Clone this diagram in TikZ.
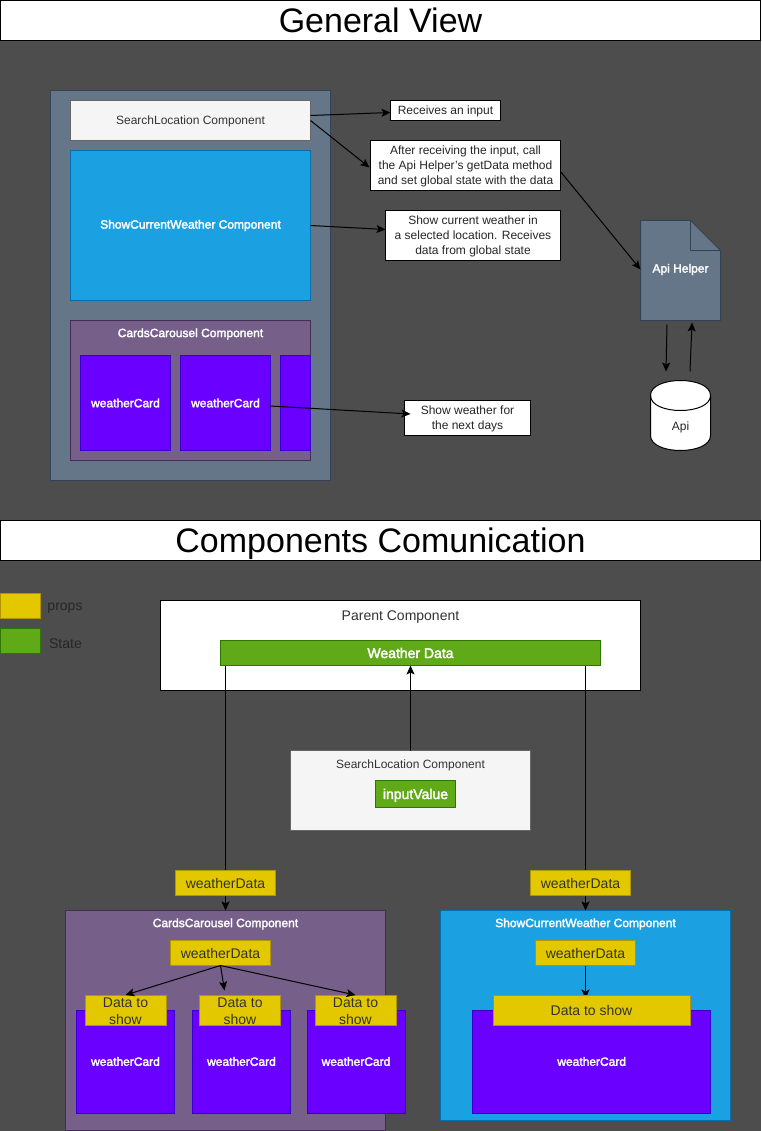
\documentclass[tikz,border=0pt]{standalone}
\usepackage{fontspec}
\setmainfont{Liberation Sans}
\newfontfamily\heavyfont[FakeBold=2.4]{Liberation Sans}
\usepackage{xcolor}
\usetikzlibrary{calc,arrows.meta,positioning}
\definecolor{bgdark}{HTML}{4D4D4D}
\definecolor{panelfill}{HTML}{647687}
\definecolor{panelline}{HTML}{314354}
\definecolor{lightfill}{HTML}{F5F5F5}
\definecolor{lightline}{HTML}{666666}
\definecolor{bluefill}{HTML}{1BA1E2}
\definecolor{blueline}{HTML}{006EAF}
\definecolor{mauvefill}{HTML}{76608A}
\definecolor{mauveline}{HTML}{432D57}
\definecolor{cardfill}{HTML}{6A00FF}
\definecolor{cardline}{HTML}{3700CC}
\definecolor{propfill}{HTML}{E3C800}
\definecolor{propline}{HTML}{B09500}
\definecolor{statefill}{HTML}{60A917}
\definecolor{stateline}{HTML}{2D7600}
\newcommand{\lowsmall}{\rule{0pt}{11pt}}
\newcommand{\lowlarge}{\rule{0pt}{12.5pt}}
\tikzset{
  every node/.style={font=\fontsize{12}{15}\selectfont,inner sep=0pt,outer sep=0pt,align=center},
  sized/.style 2 args={minimum width=#1,minimum height=#2},
  flat/.style={text height=#1,text depth=0pt},
  flat/.default=9pt,
  title/.style={draw=black,fill=white,font=\fontsize{34}{38}\selectfont,flat=24pt},
  note/.style={draw=black,fill=white,text=black!85},
  lightbox/.style={draw=lightline,fill=lightfill,text=black!80},
  bluebox/.style={draw=blueline,fill=bluefill,text=white},
  mauvebox/.style={draw=mauveline,fill=mauvefill,text=white},
  cardbox/.style={draw=cardline,fill=cardfill,text=white,font=\heavyfont\fontsize{12}{15}\selectfont},
  propbox/.style={draw=propline,fill=propfill,text=black!80,font=\fontsize{14}{16.5}\selectfont},
  statebox/.style={draw=stateline,fill=statefill,text=white,font=\heavyfont\fontsize{14}{16.5}\selectfont},
  caption/.style={font=\heavyfont\fontsize{12}{15}\selectfont,text=white},
  keytext/.style={text=black!85,font=\fontsize{14}{16}\selectfont,flat=10pt}
}
\tikzstyle{arrow} = [line width=1pt,-{Stealth[length=9pt,width=8pt,inset=2pt]},black]
\begin{document}
\begin{tikzpicture}[x=1pt,y=-1pt,line width=1pt]
  \useasboundingbox (0,0) rectangle (761,1131);
  \fill[bgdark] (0,0) rectangle (761,1131);

  % general view
  \node[title,sized={760}{40}] (viewtitle) at (380.5,20.5) {General View};
  \node[draw=panelline,fill=panelfill,sized={280}{390}] (panel) at (190.5,285.5) {};
  \node[lightbox,flat,sized={240}{40}] (search) at (190.5,120.5) {SearchLocation Component};
  \node[bluebox,sized={240}{150},font=\heavyfont\fontsize{12}{15}\selectfont] (current) at (190.5,225.5) {ShowCurrentWeather Component};
  \node[mauvebox,sized={240}{140}] (carousel) at (190.5,390.5) {};
  \node[caption] (carouselname) at (190.5,334) {CardsCarousel Component};
  \node[cardbox,sized={90}{95}] (cardone) at (125.5,403) {weatherCard};
  \node[cardbox,sized={90}{95}] (cardtwo) at (225.5,403) {weatherCard};
  \node[cardbox,sized={30}{95}] (cardthree) at (295.5,403) {};

  \node[note,flat,sized={110}{20}] (inputnote) at (445.5,110.5) {Receives an input};
  \node[note,sized={190}{50}] (callnote) at (465.5,165.5) {\lowsmall After receiving the input, call\\the Api Helper's getData method\\and set global state with the data};
  \node[note,sized={175}{50}] (currentnote) at (473,235.5) {\lowsmall Show current weather in\\a selected location. Receives\\data from global state};
  \node[note,sized={126}{35}] (daysnote) at (467.5,418) {\lowsmall Show weather for\\the next days};

  \draw[draw=panelline,fill=panelfill] (640.5,220.5) -- (690.5,220.5) -- (720.5,250.5) -- (720.5,320.5) -- (640.5,320.5) -- cycle;
  \draw[draw=panelline] (690.5,220.5) -- (690.5,250.5) -- (720.5,250.5);
  \node[caption,sized={80}{100}] (helper) at (680.5,269.5) {Api Helper};
  \draw[draw=black,fill=white] (650.5,395.5) .. controls (650.5,375.5) and (710.5,375.5) .. (710.5,395.5) -- (710.5,435.5) .. controls (710.5,455.5) and (650.5,455.5) .. (650.5,435.5) -- cycle;
  \draw[draw=black] (650.5,395.5) .. controls (650.5,415.5) and (710.5,415.5) .. (710.5,395.5);
  \node[sized={60}{70}] (api) at (680.5,415.5) {};
  \node[text=black!85] (apiname) at (680.5,427) {Api};

  \draw[arrow] ([yshift=5pt]search.east) -- ([yshift=-2pt]inputnote.west);
  \draw[arrow] (search.east) -- ([xshift=-1pt,yshift=-2pt]callnote.west);
  \draw[arrow] (current.east) -- ([yshift=6pt]currentnote.west);
  \draw[arrow] ([yshift=-6pt]callnote.east) -- (helper.west);
  \draw[arrow] ([xshift=44.5pt,yshift=-3pt]cardtwo.center) -- ([xshift=6pt,yshift=4pt]daysnote.west);
  \draw[arrow] ([xshift=-13.5pt,yshift=-5pt]helper.south) -- ([xshift=-14.5pt,yshift=9pt]api.north);
  \draw[arrow] ([xshift=9.5pt,yshift=9pt]api.north) -- ([xshift=11.5pt,yshift=-3pt]helper.south);

  % components comunication
  \node[title,sized={760}{40}] (commtitle) at (380.5,540.5) {Components Comunication};
  \node[draw=propline,fill=propfill,sized={40}{25}] (propkey) at (20.5,605.5) {};
  \node[draw=stateline,fill=statefill,sized={40}{25}] (statekey) at (20.5,640.5) {};
  \node[keytext] (propname) at (65,605) {props};
  \node[keytext] (statename) at (65.5,643) {State};

  \node[draw=black,fill=white,sized={480}{90}] (parent) at (400.5,645.5) {};
  \node[keytext,text=black!80] (parentname) at (400.5,615) {Parent Component};
  \node[statebox,sized={380}{25}] (weatherstate) at (410.5,653) {Weather Data};
  \node[lightbox,sized={240}{80}] (searchtwo) at (410.5,790.5) {};
  \node[flat,text=black!80] (searchname) at (410.5,764) {SearchLocation Component};
  \node[statebox,flat=10pt,sized={80}{27}] (inputstate) at (415.5,794) {inputValue};

  \node[mauvebox,sized={320}{220}] (carouseltwo) at (225.5,1020.5) {};
  \node[bluebox,sized={290}{210}] (currenttwo) at (585.5,1015.5) {};
  \coordinate (leftdrop) at (225.5,665.5);
  \coordinate (rightdrop) at (585.5,665.5);
  \draw[arrow] (leftdrop) -- (leftdrop |- carouseltwo.north);
  \draw[arrow] (rightdrop) -- (rightdrop |- currenttwo.north);
  \draw[arrow] (searchtwo.north) -- (searchtwo.north |- weatherstate.south);
  \node[propbox,sized={100}{25}] (propleft) at (225.5,883) {weatherData};
  \node[propbox,sized={100}{25}] (propright) at (580.5,883) {weatherData};

  \node[caption] (carouseltwoname) at (225.5,924) {CardsCarousel Component};
  \node[caption] (currenttwoname) at (585.5,924) {ShowCurrentWeather Component};
  \node[propbox,sized={100}{25}] (propinner) at (220.5,953) {weatherData};
  \node[propbox,sized={100}{25}] (propinnertwo) at (585.5,953) {weatherData};

  \foreach \nm/\cx in {smallone/125.5,smalltwo/241.5,smallthree/356}
    \node[cardbox,sized={98}{103}] (\nm) at (\cx,1061.5) {weatherCard};
  \node[cardbox,sized={238}{103}] (largecard) at (591.7,1061.5) {weatherCard};

  \draw[arrow] (propinnertwo.south) -- ++(0,33);
  \node[propbox,sized={197}{30}] (showlarge) at (591.5,1010) {Data to show};
  \node[propbox,sized={81}{30}] (showone) at (125.5,1010) {\lowlarge Data to\\show};
  \node[propbox,sized={81}{30}] (showtwo) at (240,1010) {\lowlarge Data to\\show};
  \node[propbox,sized={81}{30}] (showthree) at (355.5,1010) {\lowlarge Data to\\show};
  \draw[arrow] (propinner.south) -- (showone.north);
  \draw[arrow] (propinner.south) -- ++(4,25);
  \draw[arrow] (propinner.south) -- (showthree.north);
\end{tikzpicture}
\end{document}
